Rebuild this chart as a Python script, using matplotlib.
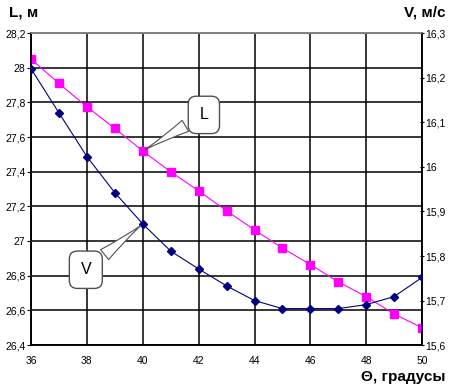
import matplotlib
matplotlib.use('Agg')
import matplotlib.pyplot as plt
from matplotlib.ticker import FuncFormatter, MultipleLocator

plt.rcParams['font.family'] = ['Liberation Sans', 'DejaVu Sans']

# angle, degrees
theta = [36, 37, 38, 39, 40, 41, 42, 43, 44, 45, 46, 47, 48, 49, 50]
# length L, m (left axis)
L = [28.05, 27.91, 27.775, 27.65, 27.52, 27.40, 27.29, 27.175,
     27.065, 26.96, 26.865, 26.765, 26.68, 26.58, 26.50]
# speed V, m/s (right axis)
V = [16.22, 16.121, 16.023, 15.942, 15.872, 15.811, 15.771, 15.733,
     15.70, 15.682, 15.682, 15.682, 15.691, 15.709, 15.752]

comma = FuncFormatter(lambda v, pos: f'{v:g}'.replace('.', ','))

fig = plt.figure(figsize=(4.5, 3.9), dpi=100)
ax = fig.add_axes([0.069, 0.115, 0.869, 0.8])
ax2 = ax.twinx()

ax.plot(theta, L, color='#ff00ff', lw=0.8, marker='s', ms=5.5,
        mfc='#ff00ff', mec='#ff00ff', zorder=3)
ax2.plot(theta, V, color='#000080', lw=0.8, marker='D', ms=4.5,
         mfc='#000080', mec='#000080', zorder=3)

ax.set_xlim(36, 50)
ax.set_ylim(26.4, 28.2)
ax2.set_ylim(15.6, 16.3)
ax.xaxis.set_major_locator(MultipleLocator(2))
ax.yaxis.set_major_locator(MultipleLocator(0.2))
ax2.yaxis.set_major_locator(MultipleLocator(0.1))
ax.yaxis.set_major_formatter(comma)
ax2.yaxis.set_major_formatter(comma)
ax.xaxis.set_major_formatter(comma)

ax.grid(True, color='black', lw=1.1)
ax.set_axisbelow(True)
for a in (ax, ax2):
    for s in a.spines.values():
        s.set_color('black')
        s.set_linewidth(1.1)
    a.spines['top'].set_color('#808080')

ax.tick_params(axis='x', length=0, pad=8, labelsize=7.5)
ax.tick_params(axis='y', length=3, direction='out', pad=1, labelsize=7.5)
ax2.tick_params(axis='y', length=3, direction='inout', pad=1, labelsize=7.5)

fig.text(0.02, 0.968, 'L, м', fontsize=11, fontweight='bold', va='center')
fig.text(0.99, 0.968, 'V, м/с', fontsize=11, fontweight='bold', va='center', ha='right')
fig.text(0.99, 0.033, 'Θ, градусы', fontsize=11, fontweight='bold', va='center', ha='right')

box = dict(boxstyle='round,pad=0.7,rounding_size=0.5', fc='white', ec='#505050', lw=1)
wedge = dict(arrowstyle='wedge,tail_width=0.8,shrink_factor=0.4',
             fc='white', ec='#505050', lw=0.8)
ax.annotate('L', xy=(theta[4], L[4]), xytext=(44, 26), textcoords='offset points',
            fontsize=11.5, ha='center', va='center', bbox=box, arrowprops=wedge, zorder=5)
ax2.annotate('V', xy=(theta[4], V[4]), xytext=(-41, -33), textcoords='offset points',
             fontsize=11.5, ha='center', va='center', bbox=box, arrowprops=wedge, zorder=5)

fig.savefig('out.png', dpi=100)
